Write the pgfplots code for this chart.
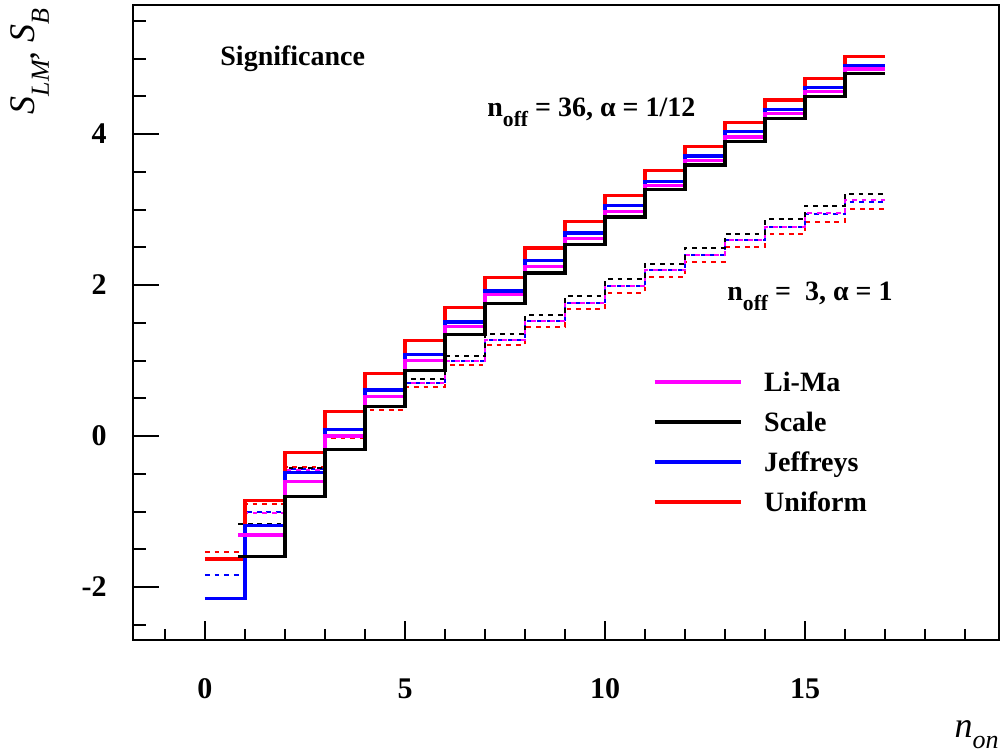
\documentclass[border=0pt]{standalone}
\usepackage{fontspec}
\setmainfont{Liberation Serif}
\usepackage{pgfplots}
\pgfplotsset{compat=1.18}
\usetikzlibrary{calc}
\definecolor{rmag}{RGB}{255,0,255}
\definecolor{rred}{RGB}{255,0,0}
\definecolor{rblue}{RGB}{0,0,255}
\begin{document}
\begin{tikzpicture}
\useasboundingbox (-66.5pt,-56pt) rectangle (434pt,320pt);
\begin{axis}[
  at={(0pt,0pt)}, anchor=south west,
  scale only axis, width=433pt, height=317.5pt,
  xmin=-1.8, xmax=19.85, ymin=-2.702, ymax=5.709,
  clip mode=individual,
  axis line style={line width=1pt},
  xtick={0,5,10,15}, xticklabels={0,5,10,15},
  minor xtick={-1,0,...,19},
  ytick={-2,0,2,4}, yticklabels={-2,0,2,4},
  minor ytick={-2.5,-2,...,5.5},
  xtick pos=bottom, ytick pos=left, tick align=inside,
  tick style={line width=1pt, black},
  xtick style={/pgfplots/major tick length=9.5pt, /pgfplots/minor tick length=5.5pt},
  ytick style={/pgfplots/major tick length=13pt, /pgfplots/minor tick length=6.5pt},
  xticklabel style={font=\bfseries\fontsize{15}{15}\selectfont, anchor=north, inner sep=0pt, yshift=-19pt},
  yticklabel style={font=\bfseries\fontsize{15}{15}\selectfont, anchor=east, inner sep=0pt, xshift=-13pt},
  legend cell align=left,
  legend image code/.code={\draw[#1] (0pt,0pt) -- (43pt,0pt);},
  legend style={draw=none, fill=none, inner sep=0pt, outer sep=0pt,
    at={(rel axis cs:0.6005,0.4239)}, anchor=north west,
    font=\bfseries\fontsize{14}{14}\selectfont,
    row sep=8.8pt,
    nodes={inner sep=0pt, outer sep=0pt, text height=10.2pt, text depth=1pt},
    /tikz/every odd column/.append style={column sep=11pt}},
]
% dashed: n_off = 3, alpha = 1
\addplot[forget plot, const plot mark left, rred, line width=1pt, dash pattern=on 2.4pt off 2.4pt] coordinates {
(0,-1.54)(1,-0.90)(2,-0.41)(3,-0.03)(4,0.35)(5,0.65)(6,0.94)(7,1.21)(8,1.45)(9,1.68)(10,1.90)(11,2.11)(12,2.31)(13,2.50)(14,2.68)(15,2.84)(16,3.01)(17,3.01)};
\addplot[forget plot, const plot mark left, rblue, line width=1pt, dash pattern=on 2.4pt off 2.4pt] coordinates {
(0,-1.84)(1,-1.00)(2,-0.44)(3,0.00)(4,0.38)(5,0.70)(6,1.00)(7,1.27)(8,1.52)(9,1.76)(10,1.99)(11,2.20)(12,2.40)(13,2.59)(14,2.77)(15,2.94)(16,3.10)(17,3.10)};
\addplot[forget plot, const plot mark left, rmag, line width=1pt, dash pattern=on 2.4pt off 2.4pt, dash phase=2.4pt] coordinates {
(0.83,-1.02)(2,-0.45)(3,0.00)(4,0.38)(5,0.70)(6,1.00)(7,1.27)(8,1.52)(9,1.76)(10,1.99)(11,2.20)(12,2.40)(13,2.59)(14,2.77)(15,2.95)(16,3.12)(17,3.12)};
\addplot[forget plot, const plot mark left, black, line width=1pt, dash pattern=on 2.4pt off 2.4pt] coordinates {
(0.83,-1.16)(2,-0.43)(3,0.02)(4,0.40)(5,0.75)(6,1.06)(7,1.35)(8,1.60)(9,1.85)(10,2.08)(11,2.28)(12,2.49)(13,2.68)(14,2.87)(15,3.05)(16,3.21)(17,3.21)};
% solid: n_off = 36, alpha = 1/12
\addplot[forget plot, const plot mark left, rred, line width=1.6pt] coordinates {
(0,-1.63)(1,-0.85)(2,-0.22)(3,0.33)(4,0.83)(5,1.27)(6,1.70)(7,2.10)(8,2.49)(9,2.84)(10,3.19)(11,3.52)(12,3.84)(13,4.15)(14,4.45)(15,4.74)(16,5.03)(17,5.03)};
\addplot[forget plot, const plot mark left, rblue, line width=1.6pt] coordinates {
(0,-2.15)(1,-1.19)(2,-0.48)(3,0.09)(4,0.61)(5,1.08)(6,1.51)(7,1.92)(8,2.33)(9,2.69)(10,3.05)(11,3.37)(12,3.71)(13,4.03)(14,4.33)(15,4.62)(16,4.90)(17,4.90)};
\addplot[forget plot, const plot mark left, rmag, line width=1.6pt] coordinates {
(0.83,-1.31)(2,-0.60)(3,0.00)(4,0.52)(5,1.00)(6,1.45)(7,1.87)(8,2.25)(9,2.62)(10,2.97)(11,3.32)(12,3.65)(13,3.96)(14,4.27)(15,4.56)(16,4.86)(17,4.86)};
\addplot[forget plot, const plot mark left, black, line width=1.6pt] coordinates {
(0.83,-1.60)(2,-0.80)(3,-0.18)(4,0.39)(5,0.87)(6,1.34)(7,1.76)(8,2.16)(9,2.54)(10,2.90)(11,3.26)(12,3.59)(13,3.90)(14,4.21)(15,4.50)(16,4.80)(17,4.80)};
% legend
\addlegendimage{rmag, line width=1.6pt}\addlegendentry{Li-Ma}
\addlegendimage{black, line width=1.6pt}\addlegendentry{Scale}
\addlegendimage{rblue, line width=1.6pt}\addlegendentry{Jeffreys}
\addlegendimage{rred, line width=1.6pt}\addlegendentry{Uniform}
% texts
\node[anchor=base west, inner sep=0pt, font=\bfseries\fontsize{14}{14}\selectfont] at (axis cs:0.375,4.91) {Significance};
\node[anchor=base west, inner sep=0pt, font=\bfseries\fontsize{14}{14}\selectfont] at (axis cs:7.05,4.23)
  {n\raisebox{-5pt}{\fontsize{10.8}{10.8}\selectfont off} = 36, α = 1/12};
\node[anchor=base west, inner sep=0pt, font=\bfseries\fontsize{14}{14}\selectfont] at (axis cs:13.05,1.79)
  {n\raisebox{-5pt}{\fontsize{10.8}{10.8}\selectfont off} =\ \ 3, α = 1};
\node[anchor=base east, inner sep=0pt, font=\itshape\fontsize{18}{18}\selectfont] at ($(rel axis cs:1,0)+(0pt,-48.5pt)$)
  {n\raisebox{-5.5pt}{\fontsize{13}{13}\selectfont on}};
\node[rotate=90, anchor=base east, inner sep=0pt, font=\itshape\fontsize{18}{18}\selectfont] at ($(rel axis cs:0,1)+(-49pt,-1.5pt)$)
  {S\raisebox{-7pt}{\fontsize{13}{13}\selectfont LM}, S\raisebox{-7pt}{\fontsize{13}{13}\selectfont B}};
\end{axis}
\end{tikzpicture}
\end{document}
